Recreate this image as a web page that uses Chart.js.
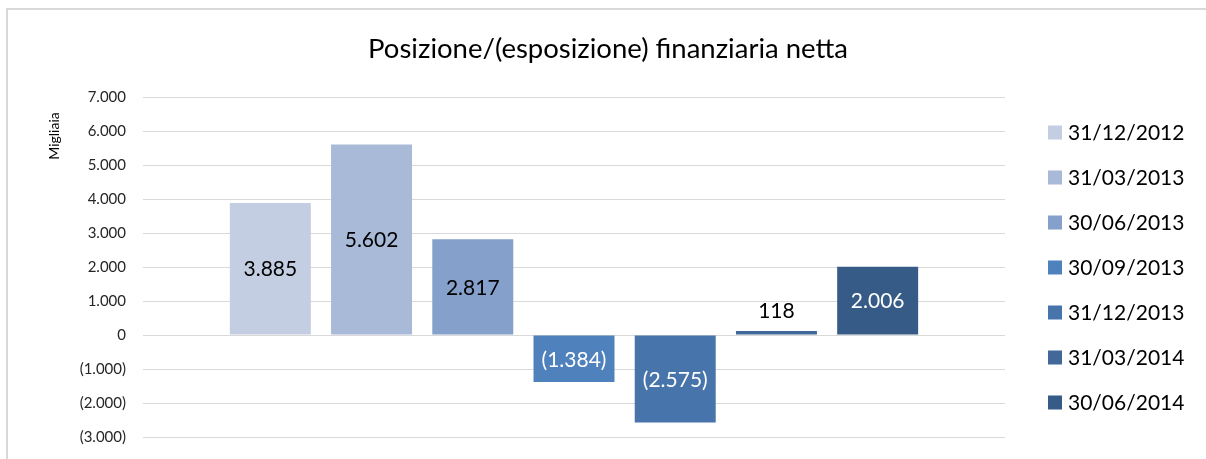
<!DOCTYPE html>
<html>
<head>
<meta charset="utf-8">
<script src="https://cdn.jsdelivr.net/npm/chart.js@4.4.0/dist/chart.umd.min.js"></script>
<style>
  body { margin: 0; background: #fff; }
  #wrap { position: relative; width: 1206px; height: 459px; overflow: hidden; }
  #frame { position: absolute; left: 6px; top: 8px; width: 1400px; height: 600px;
           border-left: 2px solid #D9D9D9; border-top: 2px solid #D9D9D9; }
  canvas { position: absolute; left: 0; top: 0; }
</style>
</head>
<body>
<div id="wrap">
  <div id="frame"></div>
  <canvas id="chart" width="1206" height="459"></canvas>
</div>
<script>
var chartTitle = "Posizione/(esposizione) finanziaria netta";
var axisTitle = "Migliaia";
var dates = ["31/12/2012", "31/03/2013", "30/06/2013", "30/09/2013", "31/12/2013", "31/03/2014", "30/06/2014"];
var values = [3885, 5602, 2817, -1384, -2575, 118, 2006];
var colors = ["#C3CEE2", "#A9BAD8", "#84A0CB", "#4F81BD", "#4775AB", "#416899", "#365B87"];
var labelColors = ["#000", "#000", "#000", "#fff", "#fff", "#000", "#fff"];
var yTicks = { min: -3000, max: 7000, step: 1000 };

var font = "Lato, 'Open Sans', sans-serif";

function fmt(v) {
  var s = String(Math.abs(v)).replace(/\B(?=(\d{3})+(?!\d))/g, ".");
  return v < 0 ? "(" + s + ")" : s;
}

var datasets = dates.map(function(d, i) {
  return {
    label: d,
    data: [values[i]],
    backgroundColor: colors[i],
    categoryPercentage: 0.822,
    barPercentage: 0.8
  };
});

// value labels on the bars
var barLabels = {
  id: "barLabels",
  afterDatasetsDraw: function(chart) {
    var ctx = chart.ctx;
    ctx.save();
    ctx.font = "21px " + font;
    ctx.textAlign = "center";
    ctx.textBaseline = "middle";
    chart.data.datasets.forEach(function(ds, i) {
      var bar = chart.getDatasetMeta(i).data[0];
      var v = ds.data[0];
      var h = Math.abs(bar.base - bar.y);
      var y;
      if (h < 26) {
        // too short for the label, put it above
        y = (v >= 0 ? bar.y : bar.y + h) - 21;
        ctx.fillStyle = "#000";
      } else {
        y = (bar.y + bar.base) / 2;
        ctx.fillStyle = labelColors[i];
      }
      ctx.fillText(fmt(v), bar.x, y + 1);
    });
    ctx.restore();
  }
};

// chart title, axis title and legend
var extras = {
  id: "extras",
  afterDraw: function(chart) {
    var ctx = chart.ctx;
    ctx.save();
    ctx.fillStyle = "#000";
    ctx.textAlign = "center";
    ctx.textBaseline = "middle";
    ctx.font = "27.5px " + font;
    ctx.fillText(chartTitle, 608, 49);

    ctx.font = "14px " + font;
    ctx.translate(54, 136);
    ctx.rotate(-Math.PI / 2);
    ctx.fillText(axisTitle, 0, 0);
    ctx.restore();

    ctx.save();
    ctx.font = "21px " + font;
    ctx.textBaseline = "middle";
    chart.data.datasets.forEach(function(ds, i) {
      var cy = 132.5 + i * 45;
      ctx.fillStyle = ds.backgroundColor;
      ctx.fillRect(1048, cy - 7, 14, 14);
      ctx.fillStyle = "#000";
      ctx.fillText(ds.label, 1068, cy + 1);
    });
    ctx.restore();
  }
};

new Chart(document.getElementById("chart"), {
  type: "bar",
  data: { labels: [""], datasets: datasets },
  options: {
    responsive: false,
    animation: false,
    layout: { padding: { left: 0, right: 201, top: 97, bottom: 22 } },
    plugins: {
      legend: { display: false },
      tooltip: { enabled: false },
      title: { display: false }
    },
    scales: {
      x: { display: false },
      y: {
        min: yTicks.min,
        max: yTicks.max,
        afterFit: function(s) { s.width = 143; },
        border: { display: false },
        grid: { color: "#D9D9D9", drawTicks: false },
        ticks: {
          stepSize: yTicks.step,
          padding: 17,
          color: "#262626",
          font: { family: font, size: 15, lineHeight: 0.6 },
          callback: function(v) { return fmt(v); }
        }
      }
    }
  },
  plugins: [barLabels, extras]
});
</script>
</body>
</html>
